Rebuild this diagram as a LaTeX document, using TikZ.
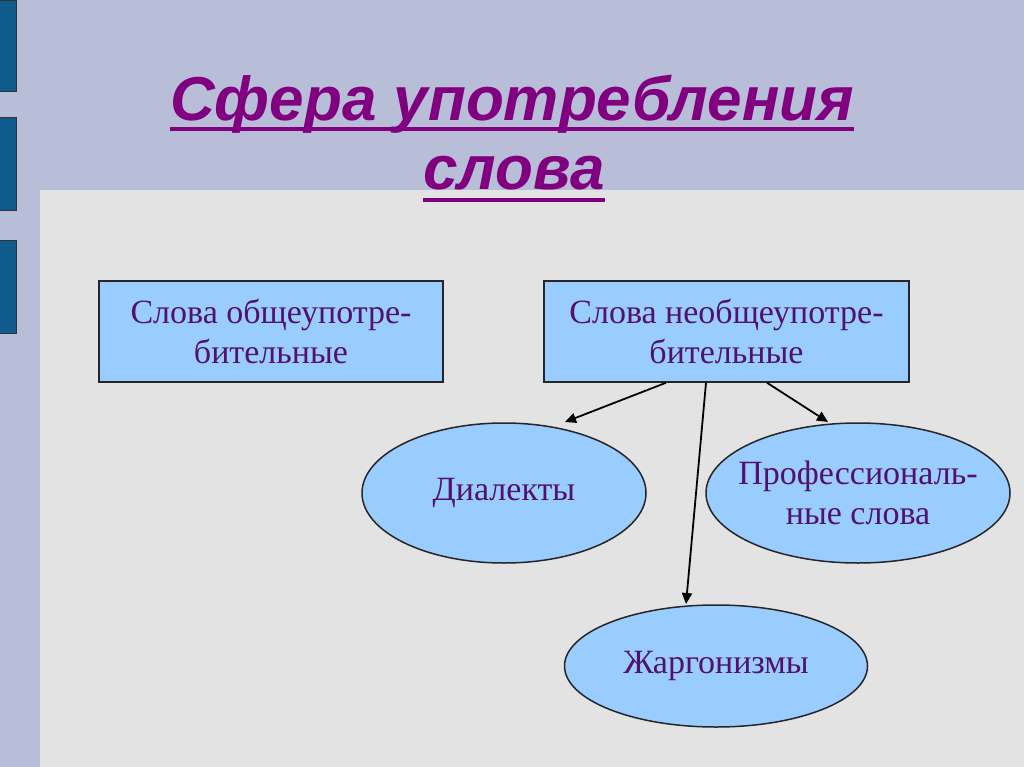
\documentclass[tikz,border=0pt]{standalone}
\usepackage{fontspec}
\setmainfont{Liberation Serif}
\newfontfamily\titlefont{Liberation Sans}
\usetikzlibrary{shapes.geometric,arrows.meta}
\definecolor{bgl}{HTML}{B8BDD8}
\definecolor{panel}{HTML}{E3E3E3}
\definecolor{blk}{HTML}{0F5C8C}
\definecolor{fillb}{HTML}{99CCFF}
\definecolor{ttl}{HTML}{800080}
\definecolor{txt}{HTML}{52126A}
\tikzset{
  box/.style={draw=black!85, line width=1.5pt, fill=fillb, minimum width=344pt, minimum height=101pt, inner sep=0pt, align=center, text=txt, font=\fontsize{34}{40}\selectfont},
  oval/.style={ellipse, draw=black!85, line width=1.5pt, fill=fillb, inner sep=0pt},
  lbl/.style={inner sep=0pt, align=center, text=txt, font=\fontsize{34}{40}\selectfont},
  arr/.style={line width=1.8pt, -{Triangle[length=11pt,width=10pt]}},
  ttlstyle/.style={text=ttl, font=\titlefont\bfseries\itshape\fontsize{62}{70}\selectfont, inner sep=0pt},
  uline/.style={ttl, line width=3.5pt},
}
\begin{document}
\begin{tikzpicture}[x=1pt,y=-1pt]
\useasboundingbox (0,0) rectangle (1024,767);
\fill[bgl] (0,0) rectangle (1024,767);
\fill[panel] (40,190) rectangle (1024,767);
\foreach \a/\b in {0/91,117/210,240/333}
  \draw[fill=blk, draw=black!80, line width=0.8pt] (-2,\a) rectangle (16,\b);
\node[ttlstyle, anchor=base] (t1) at (512,121) {Сфера употребления};
\node[ttlstyle, anchor=base] (t2) at (514,190) {слова};
\draw[uline] ([yshift=-8pt]t1.base west) -- ([yshift=-8pt]t1.base east);
\draw[uline] ([yshift=-10pt]t2.base west) -- ([yshift=-10pt]t2.base east);
\node[box, minimum width=344pt] (b1) at (271,331.5) {Слова общеупотре-\\бительные};
\node[box, minimum width=365pt] (b2) at (726.5,331.5) {Слова необщеупотре-\\бительные};
\node[oval, minimum width=284pt, minimum height=140pt] (e1) at (504,493) {};
\node[oval, minimum width=304pt, minimum height=140pt] (e2) at (858,493) {};
\node[oval, minimum width=303pt, minimum height=122pt] (e3) at (716,666) {};
\node[lbl] (l1) at (e1.center) {Диалекты};
\node[lbl] (l2) at (e2.center) {Профессиональ-\\ные слова};
\node[lbl] (l3) at (e3.center) {Жаргонизмы};
\coordinate (s1) at ([xshift=-60.5pt]b2.south);
\coordinate (s2) at ([xshift=-20.5pt]b2.south);
\coordinate (s3) at ([xshift=40.5pt]b2.south);
\coordinate (d1) at (565,422);
\coordinate (d2) at (686,604);
\coordinate (d3) at (828,422);
\draw[arr] (s1) -- (d1);
\draw[arr] (s2) -- (d2);
\draw[arr] (s3) -- (d3);
\end{tikzpicture}
\end{document}
